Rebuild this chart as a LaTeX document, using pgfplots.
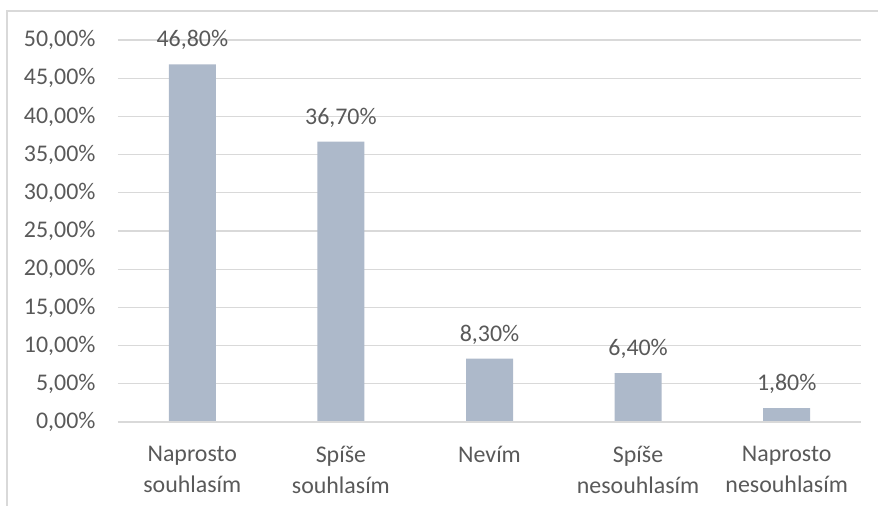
\documentclass[border=0pt]{standalone}
\usepackage{fontspec}
\setmainfont{Carlito}
\usepackage{pgfplots}
\pgfplotsset{compat=1.18}
\definecolor{bargray}{HTML}{ADB9CA}
\definecolor{gridgray}{HTML}{D9D9D9}
\definecolor{txt}{HTML}{595959}
\definecolor{framegray}{HTML}{D9D9D9}
\begin{document}
\begin{tikzpicture}[x=1bp,y=1bp]
% page area and outer chart frame
\clip (-118,-84) rectangle (760,422);
\draw[framegray, line width=1.2bp] (-111,-100) rectangle (780,411);
\begin{axis}[
  at={(0,0)}, anchor=south west,
  scale only axis, width=743bp, height=382bp,
  ybar, bar width=47bp,
  xmin=-0.5, xmax=4.5, ymin=0, ymax=50,
  axis line style={draw=none},
  ytick={0,5,...,50},
  yticklabels={{0,00\%},{5,00\%},{10,00\%},{15,00\%},{20,00\%},{25,00\%},{30,00\%},{35,00\%},{40,00\%},{45,00\%},{50,00\%}},
  ymajorgrids, grid style={gridgray, line width=1.2bp},
  major tick length=0pt,
  xtick=data,
  xticklabels={{Naprosto\\souhlasím},{Spíše\\souhlasím},{Nevím},{Spíše\\nesouhlasím},{Naprosto\\nesouhlasím}},
  xticklabel style={align=center, text=txt, font=\fontsize{24}{31}\selectfont, yshift=-21bp},
  yticklabel style={text=txt, font=\fontsize{24}{25}\selectfont, xshift=-19bp},
  nodes near coords={\pgfmathprintnumber[fixed,fixed zerofill,precision=2,use comma]{\pgfplotspointmeta}\%},
  nodes near coords style={text=txt, font=\fontsize{24}{25}\selectfont, anchor=south, yshift=11bp},
  /pgf/number format/assume math mode=true,
  clip=false,
]
\addplot[fill=bargray, draw=none] coordinates {(0,46.8) (1,36.7) (2,8.3) (3,6.4) (4,1.8)};
\draw[gridgray, line width=1.2bp] (axis cs:-0.5,0) -- (axis cs:4.5,0);
\end{axis}
\end{tikzpicture}
\end{document}
